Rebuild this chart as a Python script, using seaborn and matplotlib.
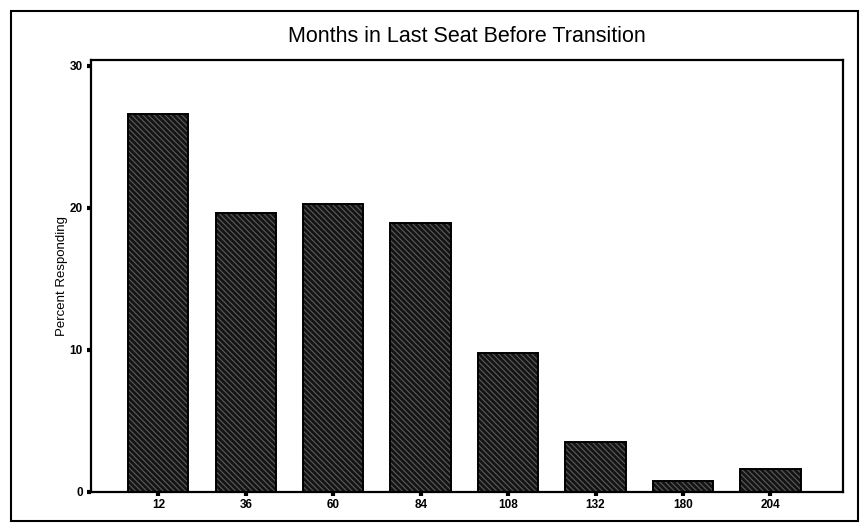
import matplotlib
matplotlib.use("Agg")
import matplotlib.pyplot as plt
import seaborn as sns
import pandas as pd
from matplotlib.patches import Rectangle

months = ["12", "36", "60", "84", "108", "132", "180", "204"]
percent = [26.6, 19.6, 20.3, 18.9, 9.8, 3.5, 0.8, 1.6]
y_ticks = [0, 10, 20, 30]

df = pd.DataFrame({"months": months, "percent": percent})

sns.set_style("white")
plt.rcParams["font.family"] = ["Liberation Sans", "DejaVu Sans"]
plt.rcParams["hatch.linewidth"] = 0.8

fig = plt.figure(figsize=(8.6, 5.23), dpi=100)
ax = fig.add_axes([91 / 860, 1 - 492 / 523, (843 - 91) / 860, (492 - 60) / 523])

sns.barplot(data=df, x="months", y="percent", color="#141414", width=0.69,
            saturation=1, ax=ax)
for bar in ax.patches:
    bar.set_hatch("\\\\\\\\\\\\")
    bar.set_edgecolor("#5c5c5c")
    bar.set_linewidth(0)
# black outline on top of the hatched fill
sns.barplot(data=df, x="months", y="percent", fill=False, edgecolor="black",
            linewidth=1.4, width=0.69, ax=ax)

ax.set_xlim(-0.77, 7.83)
ax.set_ylim(0, 30.4)
ax.set_yticks(y_ticks)
ax.set_title("Months in Last Seat Before Transition", fontsize=15.5, pad=13,
             color="black")
ax.set_xlabel("")
ax.set_ylabel("Percent Responding", fontsize=9.5, labelpad=1, color="black")

for side in ["left", "bottom", "top", "right"]:
    ax.spines[side].set_visible(True)
    ax.spines[side].set_color("black")
    ax.spines[side].set_linewidth(1.6)

ax.tick_params(axis="both", direction="out", length=3, width=3,
               colors="black", labelsize=8.5, bottom=True, left=True)
ax.tick_params(axis="x", pad=2)
ax.tick_params(axis="y", pad=3)
for lbl in ax.get_xticklabels() + ax.get_yticklabels():
    lbl.set_fontweight("bold")

# outer frame of the page
fig.patches.append(Rectangle((11 / 860, 1 - 521 / 523), 847 / 860, 510 / 523,
                             transform=fig.transFigure, fill=False,
                             edgecolor="black", linewidth=1.5))

fig.savefig("out.png", dpi=100)
